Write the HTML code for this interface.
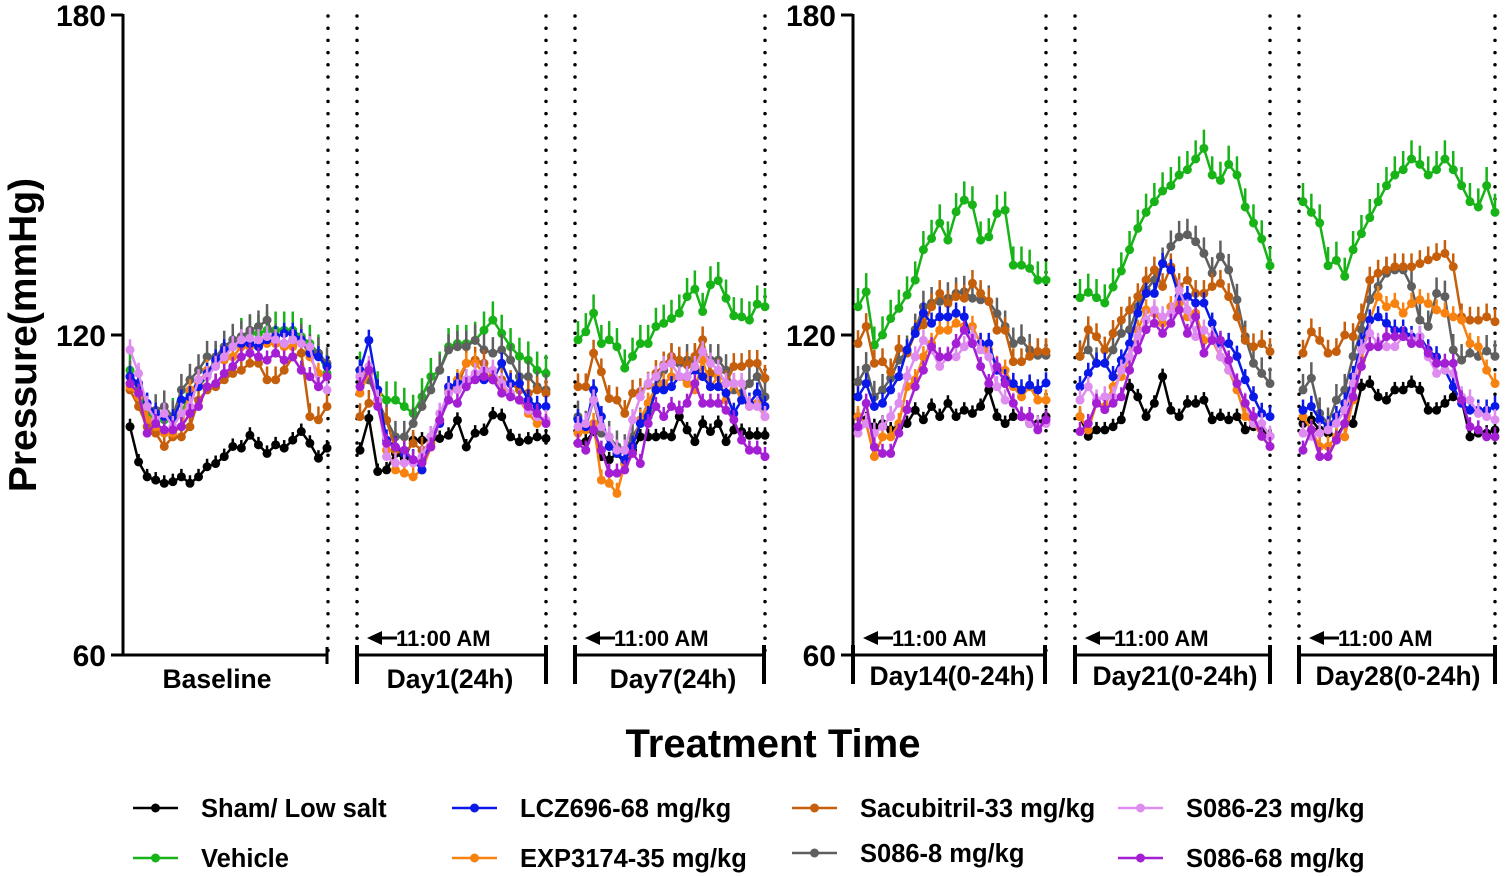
<!DOCTYPE html>
<html><head><meta charset="utf-8"><style>
body{margin:0;background:#fff;}
svg{display:block;font-family:"Liberation Sans",Arial,sans-serif;font-weight:bold;}
</style></head><body>
<svg id="chart" width="1505" height="876" viewBox="0 0 1505 876" xmlns="http://www.w3.org/2000/svg">
<g id="axes"></g>
<g id="marks"></g>
<text transform="translate(36,335) rotate(-90)" text-anchor="middle" font-size="39">Pressure(mmHg)</text>
<text x="773" y="757" text-anchor="middle" font-size="40">Treatment Time</text>
<g id="legend"></g>
</svg>
<script>
const segmentLabels = ["Baseline","Day1(24h)","Day7(24h)","Day14(0-24h)","Day21(0-24h)","Day28(0-24h)"];
const yTicks = [60,120,180];
const seriesNames = ["Sham/ Low salt","Vehicle","S086-8 mg/kg","Sacubitril-33 mg/kg","EXP3174-35 mg/kg","LCZ696-68 mg/kg","S086-23 mg/kg","S086-68 mg/kg"];
const seriesSem = [1.5,3.5,3,2.5,2,2,2,1.8];
const shamData = [
[102.8,96.2,93.4,92.8,92.2,92.5,93.4,92.2,93.4,95.3,95.9,97.2,99.1,98.8,101.2,99.4,97.8,99.4,98.8,100.3,101.9,99.7,96.9,98.8],
[98.4,104.4,94.4,94.7,97.8,96.9,100.3,100.3,100.3,100.6,101.2,104,99,101.6,101.9,105,104.7,100.9,100,100.3,100.9,100.6],
[99.7,100,101.9,97.2,96.6,97.8,95.9,98.4,100.9,100.9,100.9,101.2,100.9,104.7,102.2,100,103.4,101.9,103.4,100,102.2,101.9,101.2,101.2,101.2],
[104.7,104.1,102.8,103.4,102.2,102.8,103.4,105.9,104.1,106.6,104.7,107.2,104.7,105.9,105.3,106.6,109.7,104.7,103.4,104.7,104.7,103.4,103.4,104.7],
[104.7,101,102.2,102.2,102.8,104.1,110.3,108.4,104.7,107.2,112.2,105.9,104.7,107.2,107.2,107.8,104.1,104.7,104.1,104.7,102.2,102.8,102.2,101],
[103.4,104.1,102.2,101.6,100.9,103.4,103.4,110.3,110.9,108.4,107.8,109.7,109.7,110.9,109.7,105.9,105.9,107.2,108.4,107.8,100.9,101.6,101.6,102.2]];
const vehicleData = [
[113.4,109.7,105.3,104.1,104.1,104.7,105.3,109.1,110.3,112.2,114.7,116.6,118.4,119.7,120.3,120.3,120.9,120.9,120.9,120.9,119.7,118.4,116.6,112.8],
[113.4,111.6,109.7,107.8,107.8,106.6,105.3,108.4,112.2,113.4,117.8,118.4,118.4,119,120.9,122.8,120.3,117.8,116,115.3,113.4,112.8],
[119.1,120.6,124.1,118.4,119.1,117.8,113.8,116,118.4,118.4,121.6,122.2,123.1,124.1,127.2,128.6,124.4,129.4,130.2,126.9,123.6,123.4,122.8,125.8,125.3],
[125.3,128.1,118.1,120,123.1,125,127.5,130.3,136,138.1,141,137.8,143.1,145.3,144.4,137.8,138.4,142.8,143.4,133.1,133.1,132.5,130.3,130.3],
[127,128,127,126,129,132,136,140,143,145,147,148,150,151,153,155,150,149,152,150,144,141,138,133],
[145,143,141,133,134,131,136,139,142,145,148,150,151,153,152,150,151,153,151,148,145,144,148,143]];
const s086_8Data = [
[112.2,110.9,105.9,105.9,106.6,104.7,109.7,111.6,113.4,115.9,115.9,117.8,119.1,119.7,120.9,121.6,122.8,119.1,118.4,119.1,119.1,117.2,116.6,114.7],
[112.2,111.6,107.8,104,100.9,100.9,103.4,106.6,109.7,113.4,117.2,117.8,117.8,119,117.2,116.6,117.2,115.3,112.2,112.2,110.3,109.7],
[104.7,102.8,107.8,101.6,100.9,99.1,98.4,100.9,103.4,105.9,110.3,113.4,115.3,114.7,115.3,115.3,116.6,115.3,115.3,113.4,109.7,109.1,110.9,112.2,108.4],
[111.2,113.8,108.4,109.7,111.9,115.3,116.9,121,125.3,126,126.3,126.9,127.8,128.1,126.9,126.6,126.3,124,121.6,118.4,119,117.2,116.2,116.2],
[116,117.2,114.7,114.7,117.2,120.3,121,125.3,128.4,130.3,133.4,136.6,138.4,138.8,137.5,135.3,131.6,134.7,132.2,126.6,119.7,114.7,112.8,110.9],
[109.7,111.9,105.3,103.4,107.8,109.7,116,121,126.6,129.1,131.6,132.2,132.2,129.1,122.8,121.6,127.8,127.2,117.2,115.3,116.6,116,117,116]];
const sacubitrilData = [
[109.7,106.6,102.8,101.6,99.1,100.9,100.9,102.8,107.8,109.7,110.3,111.6,112.8,113.4,114.7,114.7,111.6,111.6,113.4,115.9,116.6,104.7,104.1,106.6],
[104.7,107.2,107.2,104,98.4,97.8,99.7,98.4,99.7,104,109.7,110.3,114.7,115.3,114.7,112.2,111.6,110.9,109.7,109.1,109.7,109.1],
[110.3,110.3,116.6,113.1,108.1,107.8,105.3,109.1,109.4,110.6,112.8,114.4,116,115.3,114.4,116,119.1,112.8,113.1,110.9,114.1,114.1,114.7,114.7,111.9],
[118.4,121.6,114.7,115,113.1,117.5,116.6,120.3,121.9,125.3,127.8,125.9,127.2,126.9,129.7,127.8,126.3,120.9,120.9,115,115,116,116.9,116.9],
[116,121,119.7,117.2,120.3,122.8,124.7,127.2,130.3,132.2,129.1,132.8,129.1,130.3,127.8,127.8,129.1,129.7,127.2,123.4,119,117.8,118.4,116.9],
[116.6,120.6,119,116.6,116.9,120,119.7,123.4,130.3,131.6,132.2,132.8,132.8,132.8,133.4,134.1,134.7,135.3,132.8,123.4,122.8,122.8,123.4,122.5]];
const exp3174Data = [
[110.3,108.4,104.1,102.8,101.6,101.6,102.8,109.7,110.9,113.4,114.7,115.3,115.9,117.8,117.8,117.8,118.4,118.4,117.8,117.8,119.1,115.9,112.8,112.2],
[109.1,112.8,109.1,98.4,94.7,94.1,93.4,94.7,99,104,109.1,111.6,114.7,114.7,112.8,111.6,110.3,109.1,107.8,105.3,103.4,104],
[101.6,102.2,103.4,92.8,92.2,90.3,95.9,99.1,104.1,107.2,110.3,110.9,112.2,112.2,110.9,109.7,115.3,110.3,112.2,107.8,110.9,107.8,106.6,107.2,104.7],
[104.7,103.4,97.2,100.9,100.9,103.4,110.3,111.6,115.9,118.4,120.9,120.9,122.2,121.6,121.6,118.4,117.2,114.1,113.4,110.3,108.4,110.3,107.8,107.8],
[104.7,102.2,107.2,106.6,110.3,112.2,115.9,120.9,124.7,124.1,122.2,125.3,125.9,123.4,124.1,119,119,115.9,113.4,109.7,104.7,103.4,101,99.1],
[104.7,102.2,99.1,99.1,100.9,100.9,107.8,115.3,122.8,127.2,125.3,125.9,124.1,125.9,126.6,125.9,124.7,124.1,123.4,122.8,118.4,117.8,113.4,110.9]];
const lcz696Data = [
[112.2,110.9,107.2,105.3,104.7,104.1,107.8,108.4,110.3,112.8,115.3,117.2,117.8,118.4,118.4,117.8,119.1,119.7,120.3,120.3,119.1,116.6,115.9,114.1],
[113.4,119,109.7,100.3,99,97.8,96.6,94.7,100.9,103.4,110.3,110.9,111.6,112.2,111.6,111.6,114.7,110.9,110.9,107.8,106.6,106.6],
[104.1,102.8,109.7,104.7,99.1,97.8,96.6,99.1,103.4,104.7,109.7,109.7,110.3,112.2,112.2,113.4,112.2,110.3,110.3,109.1,105.3,107.8,107.2,109.1,106.6],
[108.4,110.9,106.6,107.2,109.7,112.2,117.2,120.3,124.1,122.2,123.4,123.4,124.1,123.4,118.4,118.4,118.4,113.4,111.6,110.9,109.7,110.6,109.7,111],
[110.3,112.8,114.7,114.7,112.2,115.3,118.4,124.1,127.8,127.8,133.4,132.2,127.2,127.2,126,126,122.2,118.4,118.4,116,111.6,108.4,105.3,104.7],
[105.9,106.6,104.1,102.8,104.7,107.2,112.2,118.4,122.8,123.4,122.2,120.9,120.9,119.7,119.7,117.2,115.9,113.4,110.3,107.2,105.9,105.9,105.9,106.6]];
const s086_23Data = [
[117.2,112.8,106.6,104.1,105.3,102.8,105.3,106.6,111.6,112.2,114.1,115.9,117.8,119.1,119.4,119.1,119.7,119.1,118.4,119.1,118.4,117.8,110.3,109.7],
[112.2,114.1,107.8,97.2,96,96,96,97.2,100.9,105.3,109.1,109.7,111.6,112.8,113.4,113.4,110.9,109.1,107.8,105.9,104.7,104],
[102.8,103.4,107.8,102.8,100.9,98.4,98.4,104.1,108.4,110.9,112.2,114.1,114.7,112.2,112.2,114.1,116.9,114.7,113.4,110.9,110.9,110.9,106.6,106.6,104.7],
[101.6,103.4,101.6,102.8,104.7,107.2,112.2,115.9,119,117.2,114.1,115.9,115.9,117.8,119.7,117.2,115.9,110.3,107.8,107.2,104.7,103.4,102.8,103.4],
[107.8,110.3,107.8,108.4,108.4,113.4,115.9,119.7,122.8,124.7,123.4,124.1,128.4,124.7,119.7,120.9,119.7,115.9,113.4,110.9,107.2,103.4,103.4,101],
[101.6,101,101.6,102.2,103.4,105.9,110.9,117.2,120.3,118.4,117.8,117.8,119.7,119,119.7,115.9,112.8,113.4,112.8,108.4,107.8,105.3,104.7,104.1]];
const s086_68Data = [
[110.9,109.1,101.6,103.4,102.2,102.2,102.8,105.3,106.6,110.3,110.9,112.8,114.1,115.9,116.6,115.9,115.3,116.6,115.3,115.9,113.4,112.2,110.3,112.2],
[110.3,113.4,106.6,99.7,99,98.4,96.6,96,99,104,107.8,107.2,110.3,111.6,112.2,111.6,109.1,108.4,107.8,106.6,105.3,103.4],
[99.7,98.4,102.2,98.4,94.1,94.1,94.7,97.8,95.9,103.4,106.6,104.7,106.6,105.9,107.2,110.9,107.2,107.2,107.2,105.9,104.1,100.3,98.4,98.4,97.2],
[102.8,107.2,99,97.8,97.8,101.6,106,110.3,113.4,117.8,115.9,115.9,118.4,120.9,118.4,114.1,110.9,114.1,110.9,107.2,104.7,104.7,102.2,104.1],
[101.9,103.4,107.2,106,107.2,108.4,113.4,117.2,121,122.2,120.3,122.2,124.7,120.3,123.4,116.6,119,119,115.3,110.9,107.2,104.7,101,99.1],
[98.4,102.2,97.2,97.2,100.3,103.4,108.4,114.1,117.8,117.8,119.7,119.7,119.7,118.4,118.4,116.6,114.7,114.7,114.7,107.8,102.8,102.2,100.9,100.9]];

const allSeries = [shamData,vehicleData,s086_8Data,sacubitrilData,exp3174Data,lcz696Data,s086_23Data,s086_68Data];
const colors = ["#000000","#17b317","#5f5f5f","#c65f0c","#f8820f","#0a18e8","#de8cf0","#a41ed4"];
const segX = [[130,327],[360,546],[578,765],[858,1046],[1080,1270],[1303,1495]];
const NS="http://www.w3.org/2000/svg";
function yS(v){return 655-(v-60)*(640/120);}
function xS(seg,i,n){const a=segX[seg][0],b=segX[seg][1];return a+(b-a)*i/(n-1);}
function mk(tag,attrs,parent){const e=document.createElementNS(NS,tag);for(const k in attrs)e.setAttribute(k,attrs[k]);parent.appendChild(e);return e;}
const axes=document.getElementById('axes'),marks=document.getElementById('marks'),legend=document.getElementById('legend');

[123,853].forEach((ax,pi)=>{
  const l=mk('line',{x1:ax,y1:14,x2:ax,y2:656,stroke:'#000','stroke-width':3},axes);
  
  
  yTicks.forEach(t=>{
    const tk=mk('line',{x1:ax-12,y1:yS(t),x2:ax,y2:yS(t),stroke:'#000','stroke-width':3},axes);
    
    
    const tx=mk('text',{x:ax-17,y:yS(t)+11,'text-anchor':'end','font-size':30},axes);
    tx.textContent=t;
    
    
  });
});
[328,357,546,575,765,1046,1075,1270,1299,1495].forEach(x=>{
  const d=mk('line',{x1:x,y1:16,x2:x,y2:655,stroke:'#000','stroke-width':3.5,'stroke-dasharray':'0 12.2','stroke-linecap':'round'},axes);
  
  
});
const brackets=[[123,327,217,false],[357,546,450,true],[575,764,673,true],[853,1045,952,true],[1075,1270,1175,true],[1299,1495,1398,true]];
brackets.forEach((b,i)=>{
  const g=mk('g',{},axes);
  
  
  mk('line',{x1:b[0],y1:655,x2:b[1],y2:655,stroke:'#000','stroke-width':3},g);
  if(b[3]){mk('line',{x1:b[0],y1:645,x2:b[0],y2:684,stroke:'#000','stroke-width':4},g);}
  mk('line',{x1:b[1],y1:b[3]?645:647,x2:b[1],y2:b[3]?684:664,stroke:'#000','stroke-width':b[3]?4:3},g);
  const t=mk('text',{x:b[2],y:i>=3?685:688,'text-anchor':'middle','font-size':26.5},axes);
  t.textContent=segmentLabels[i];
  
  
  if(i>0){
    const ax=b[0]+10;
    const ag=mk('g',{},axes);
    
    
    mk('polygon',{points:`${ax},638 ${ax+15},631 ${ax+15},645`,fill:'#000'},ag);
    mk('line',{x1:ax+14,y1:638,x2:ax+30,y2:638,stroke:'#000','stroke-width':3},ag);
    const at=mk('text',{x:ax+29,y:646,'font-size':22},ag);
    at.textContent='11:00 AM';
  }
});
allSeries.forEach((ser,si)=>{
  const g=mk('g',{},marks);
  
  
  ser.forEach((vals,seg)=>{
    const n=vals.length;
    vals.forEach((v,i)=>{
      const eb=mk('line',{x1:xS(seg,i,n),y1:yS(v),x2:xS(seg,i,n),y2:yS(v+seriesSem[si]),stroke:colors[si],'stroke-width':2.5},g);
      
      
    });
    const pts=vals.map((v,i)=>xS(seg,i,n).toFixed(1)+','+yS(v).toFixed(1)).join(' ');
    const pl=mk('polyline',{points:pts,fill:'none',stroke:colors[si],'stroke-width':2.5},g);
    
    
    vals.forEach((v,i)=>{
      const c=mk('circle',{cx:xS(seg,i,n),cy:yS(v),r:4.5,fill:colors[si]},g);
      
      
    });
  });
});
const legOrder=[[0,133,808],[5,452,808],[3,792,808],[6,1118,808],[1,133,858],[4,452,858],[2,792,853],[7,1118,858]];
legOrder.forEach(o=>{
  const si=o[0],x=o[1],y=o[2];
  const g=mk('g',{},legend);
  
  
  mk('line',{x1:x,y1:y,x2:x+45,y2:y,stroke:colors[si],'stroke-width':2.5},g);
  mk('circle',{cx:x+22.5,cy:y,r:4.5,fill:colors[si]},g);
  const t=mk('text',{x:x+68,y:y+9,'font-size':25.5},g);
  t.textContent=seriesNames[si];
});
</script>
</body></html>
